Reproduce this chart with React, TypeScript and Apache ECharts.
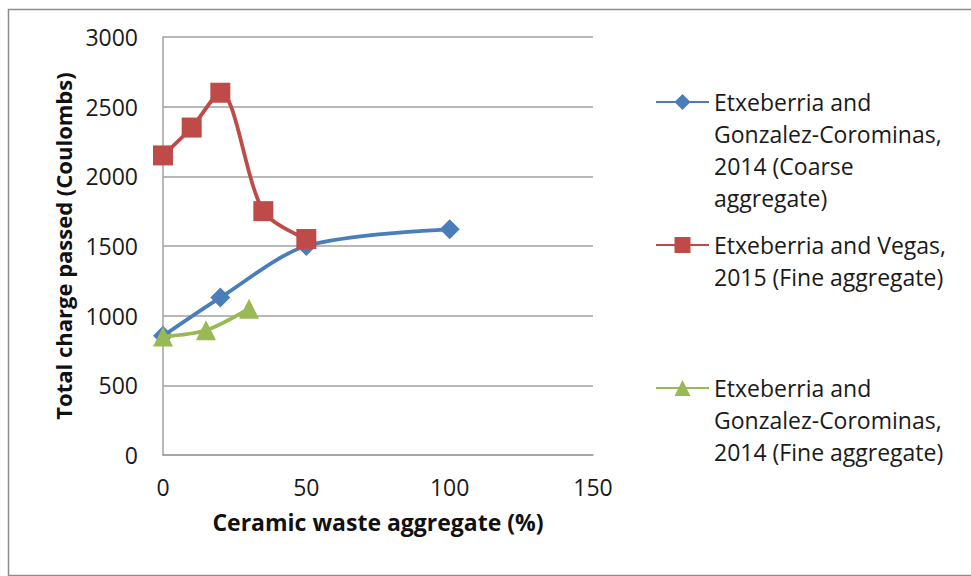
import React, { useEffect, useRef } from "react";
import * as echarts from "echarts";

const seriesNames = [
  "Etxeberria and\nGonzalez-Corominas,\n2014 (Coarse\naggregate)",
  "Etxeberria and Vegas,\n2015 (Fine aggregate)",
  "Etxeberria and\nGonzalez-Corominas,\n2014 (Fine aggregate)",
];
const coarseX = [0, 20, 50, 100];
const coarseY = [855, 1130, 1500, 1620];
const vegasX = [0, 10, 20, 35, 50];
const vegasY = [2150, 2350, 2600, 1750, 1550];
const fineX = [0, 15, 30];
const fineY = [850, 895, 1050];
const xTicks = { min: 0, max: 150, interval: 50 };
const yTicks = { min: 0, max: 3000, interval: 500 };
const colors = ["#4A7EBB", "#BE4B48", "#98B954"];
const symbols = ["diamond", "rect", "triangle"];
const symbolSizes = [20, 20, 20];

const FONT = "'Open Sans', 'DejaVu Sans', sans-serif";
const LH = 32;

export default function App() {
  const ref = useRef<HTMLDivElement>(null);
  useEffect(() => {
    document.body.style.margin = "0";
    const chart = echarts.init(ref.current!, null, { renderer: "svg" });
    const xs = [coarseX, vegasX, fineX];
    const ys = [coarseY, vegasY, fineY];
    const iconCenters = [102, 245, 388];
    const series = seriesNames.map((name, i) => ({
      type: "line",
      name,
      data: xs[i].map((x, j) => [x, ys[i][j]]),
      smooth: 0.3,
      symbol: symbols[i],
      symbolSize: symbolSizes[i],
      showAllSymbol: true,
      lineStyle: { color: colors[i], width: 3.8 },
      itemStyle: { color: colors[i] },
      z: 2 + i,
    }));
    const legends = seriesNames.map((name, i) => {
      const n = name.split("\n").length;
      return {
        data: [name],
        left: 655,
        top: iconCenters[i] - ((2 * n - 1) * LH) / 2,
        orient: "vertical",
        padding: 0,
        itemWidth: 53,
        itemHeight: 20,
        itemGap: 0,
        selectedMode: false,
        formatter: (nm: string) => "\n".repeat(n - 1) + nm,
        textStyle: {
          fontFamily: FONT,
          fontSize: 23,
          color: "#1a1a1a",
          lineHeight: LH,
        },
      };
    });
    chart.setOption({
      animation: false,
      backgroundColor: "#ffffff",
      graphic: [
        {
          type: "rect",
          left: 6,
          top: 7,
          shape: { x: 0, y: 0, width: 980, height: 566 },
          style: { fill: "none", stroke: "#8c8c8c", lineWidth: 1.5 },
          silent: true,
        },
      ],
      grid: { left: 163, right: 378, top: 37, bottom: 121, containLabel: false },
      legend: legends,
      xAxis: {
        type: "value",
        min: xTicks.min,
        max: xTicks.max,
        interval: xTicks.interval,
        name: "Ceramic waste aggregate (%)",
        nameLocation: "middle",
        nameGap: 55,
        nameTextStyle: { fontFamily: FONT, fontSize: 23, fontWeight: "bold", color: "#111" },
        axisLine: { show: true, lineStyle: { color: "#a0a0a0", width: 1.5 } },
        axisTick: { show: false },
        splitLine: { show: false },
        axisLabel: { fontFamily: FONT, fontSize: 23, color: "#1a1a1a", margin: 20 },
      },
      yAxis: {
        type: "value",
        min: yTicks.min,
        max: yTicks.max,
        interval: yTicks.interval,
        name: "Total charge passed (Coulombs)",
        nameLocation: "middle",
        nameGap: 89,
        nameTextStyle: { fontFamily: FONT, fontSize: 22, fontWeight: "bold", color: "#111" },
        axisLine: { show: true, lineStyle: { color: "#a0a0a0", width: 1.5 } },
        axisTick: { show: false },
        splitLine: { show: true, lineStyle: { color: "#a0a0a0", width: 1.5 } },
        axisLabel: {
          fontFamily: FONT,
          fontSize: 23,
          color: "#1a1a1a",
          margin: 25,
          formatter: (v: number) => String(v),
        },
      },
      series,
    });
    return () => chart.dispose();
  }, []);
  return <div ref={ref} style={{ width: 971, height: 576 }} />;
}
